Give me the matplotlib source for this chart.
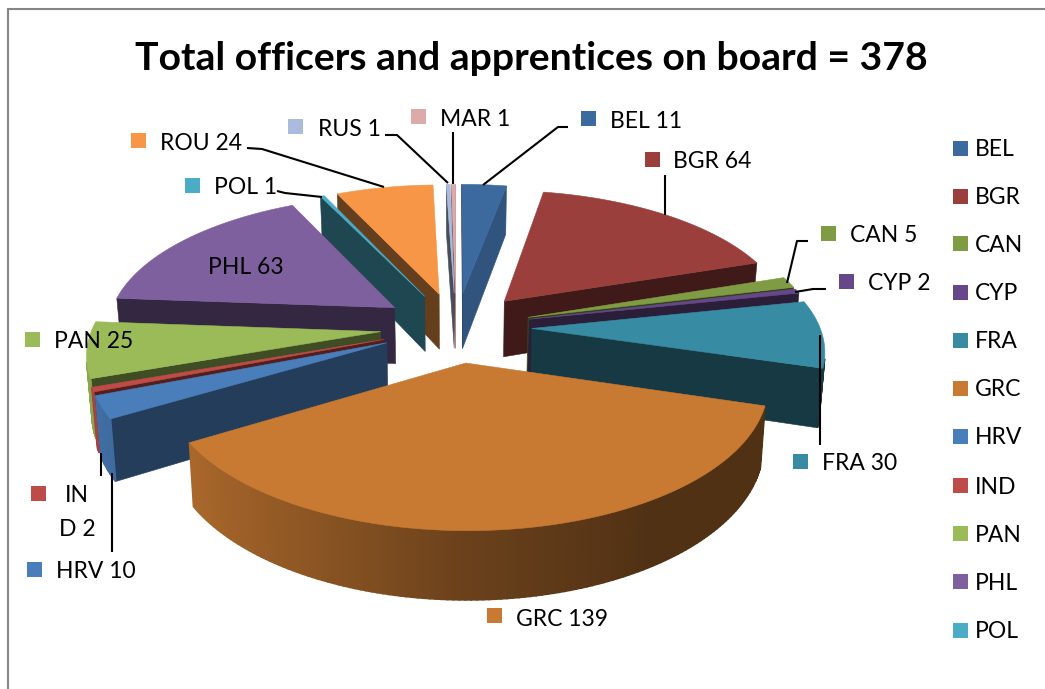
import matplotlib
matplotlib.use('Agg')
import matplotlib.pyplot as plt
from matplotlib.patches import Polygon, Rectangle
from matplotlib.colors import to_rgb
import numpy as np

plt.rcParams['font.family'] = ['Lato', 'DejaVu Sans']

categories = ['BEL', 'BGR', 'CAN', 'CYP', 'FRA', 'GRC', 'HRV', 'IND', 'PAN', 'PHL', 'POL', 'ROU', 'RUS', 'MAR']
values = [11, 64, 5, 2, 30, 139, 10, 2, 25, 63, 1, 24, 1, 1]
colors = ['#3D6A9E', '#9A3F3C', '#7F9C45', '#66488A', '#378BA3', '#C87A33', '#4A7EBB',
          '#BE4B48', '#9ABB57', '#7F609F', '#4BACC6', '#F79646', '#AABBDD', '#DDAAAA']
title = 'Total officers and apprentices on board = 378'

# projection of the tilted pie, in image pixels
CX, CY = 456, 327
RX, RY = 288, 133
PERSP = 0.14
EXPLODE = 0.263
DEPTH = 57

# label marker left/top, text x, text centre y
label_pos = {
    'BEL': (581, 111, 610, 121), 'BGR': (645, 152, 673, 162), 'CAN': (821, 226, 850, 236),
    'CYP': (839, 274, 868, 284), 'FRA': (793, 454, 822, 464), 'GRC': (487, 608, 516, 619),
    'HRV': (27, 562, 56, 571), 'PAN': (25, 332, 54, 342), 'POL': (185, 178, 214, 188),
    'ROU': (131, 133, 160, 144), 'RUS': (288, 119, 318, 129), 'MAR': (411, 109, 440, 119),
}
leaders = [
    [(568, 127), (558, 127), (483, 185)],
    [(665, 175), (665, 215)],
    [(808, 241), (797, 241), (787, 283)],
    [(826, 289), (813, 289), (795, 292)],
    [(820, 335), (820, 445)],
    [(385, 135), (397, 135), (448, 183)],
    [(453, 132), (453, 184)],
    [(247, 148), (262, 149), (384, 187)],
    [(277, 191), (285, 193), (322, 197)],
    [(112, 473), (112, 552)],
    [(101, 453), (101, 476)],
]

fig = plt.figure(figsize=(10.45, 6.89), dpi=100)
ax = fig.add_axes([0, 0, 1, 1])
ax.set_xlim(0, 1045)
ax.set_ylim(689, 0)
ax.axis('off')


def project(a, r, mid, low=False):
    # a, mid in degrees clockwise from 12 o'clock, r as a fraction of the radius
    a, mid = np.radians(a), np.radians(mid)
    u = r * np.sin(a) + EXPLODE * np.sin(mid)
    v = r * np.cos(a) + EXPLODE * np.cos(mid)
    s = 1 / (1 + PERSP * v)
    x = CX + RX * u * s
    y = CY - RY * v * s
    if low:
        x = CX + (x - CX) * 0.985
        y = y + DEPTH * s
    return x, y


def shade(color, f):
    return tuple(c * f for c in to_rgb(color))


def facing(pts):
    # signed area, image y points down
    p = np.array(pts)
    return np.sum(p[:, 0] * np.roll(p[:, 1], -1) - np.roll(p[:, 0], -1) * p[:, 1]) > 0


def face(pts, color, z, lw=0.4):
    ax.add_patch(Polygon(pts, closed=True, facecolor=color, edgecolor=color, linewidth=lw, zorder=z))


total = sum(values)
edges = np.concatenate([[0], np.cumsum(values)]) / total * 360
mids = (edges[:-1] + edges[1:]) / 2
order = np.argsort(-np.cos(np.radians(mids)))

for z, i in enumerate(order):
    a0, a1, mid, col = edges[i], edges[i + 1], mids[i], colors[i]
    base = z * 10 + 1
    # the two cut faces
    for a, normal in ((a0, a0 - 90), (a1, a1 + 90)):
        quad = [project(a, 0, mid), project(a, 1, mid), project(a, 1, mid, True), project(a, 0, mid, True)]
        if a == a0:
            quad = quad[::-1]
        if facing(quad):
            n = normal % 360
            f = 0.41 + 0.39 * np.clip((160 - n) / 60, 0, 1) if n < 180 else 0.41
            face(quad, shade(col, f), base)
    # outer rim, shaded from left to right
    arc = np.linspace(a0, a1, max(int(a1 - a0) + 2, 3))
    for b0, b1 in zip(arc[:-1], arc[1:]):
        quad = [project(b1, 1, mid), project(b0, 1, mid), project(b0, 1, mid, True), project(b1, 1, mid, True)]
        if facing(quad):
            u = np.sin(np.radians((b0 + b1) / 2))
            face(quad, shade(col, np.interp(u, [-1, 0, 0.55, 1], [0.9, 0.53, 0.4, 0.4])), base + 1, lw=1.2)
    top = [project(0, 0, mid)] + [project(b, 1, mid) for b in arc]
    face(top, col, base + 2)

for pts in leaders:
    xs, ys = zip(*pts)
    ax.plot(xs, ys, color='black', lw=1.5, zorder=300, solid_capstyle='butt')

fs = 16.5
for name, value, col in zip(categories, values, colors):
    if name in label_pos:
        mx, my, tx, ty = label_pos[name]
        ax.add_patch(Rectangle((mx, my), 15, 15, facecolor=col, edgecolor='none', zorder=310))
        ax.text(tx, ty, f'{name} {value}', fontsize=fs, va='center', ha='left', color='black', zorder=320)

# labels that do not follow the pattern
ax.text(246, 268, f'PHL {values[9]}', fontsize=fs, va='center', ha='center', color='black', zorder=320)
ax.add_patch(Rectangle((31, 486), 15, 15, facecolor=colors[7], edgecolor='none', zorder=310))
ax.text(77, 496, 'IN', fontsize=fs, va='center', ha='center', color='black', zorder=320)
ax.text(77, 529, f'D {values[7]}', fontsize=fs, va='center', ha='center', color='black', zorder=320)

# legend, cut off by the lower edge of the picture
legend_y = [148, 196, 243, 292, 340, 388, 436, 485, 533, 581, 630]
for name, col, y in zip(categories, colors, legend_y):
    ax.add_patch(Rectangle((953, y - 7.5), 15, 15, facecolor=col, edgecolor='none', zorder=310))
    ax.text(975, y + 2, name, fontsize=fs, va='center', ha='left', color='black', zorder=320)

ax.text(531, 59, title, fontsize=28.2, fontweight='bold', ha='center', va='center', color='black', zorder=320)

# chart frame
ax.plot([7.5, 7.5, 1045], [689, 8.5, 8.5], color='#868686', lw=1.5, zorder=330, solid_joinstyle='miter')

fig.savefig('out.png', dpi=100, facecolor='white')
plt.close()
